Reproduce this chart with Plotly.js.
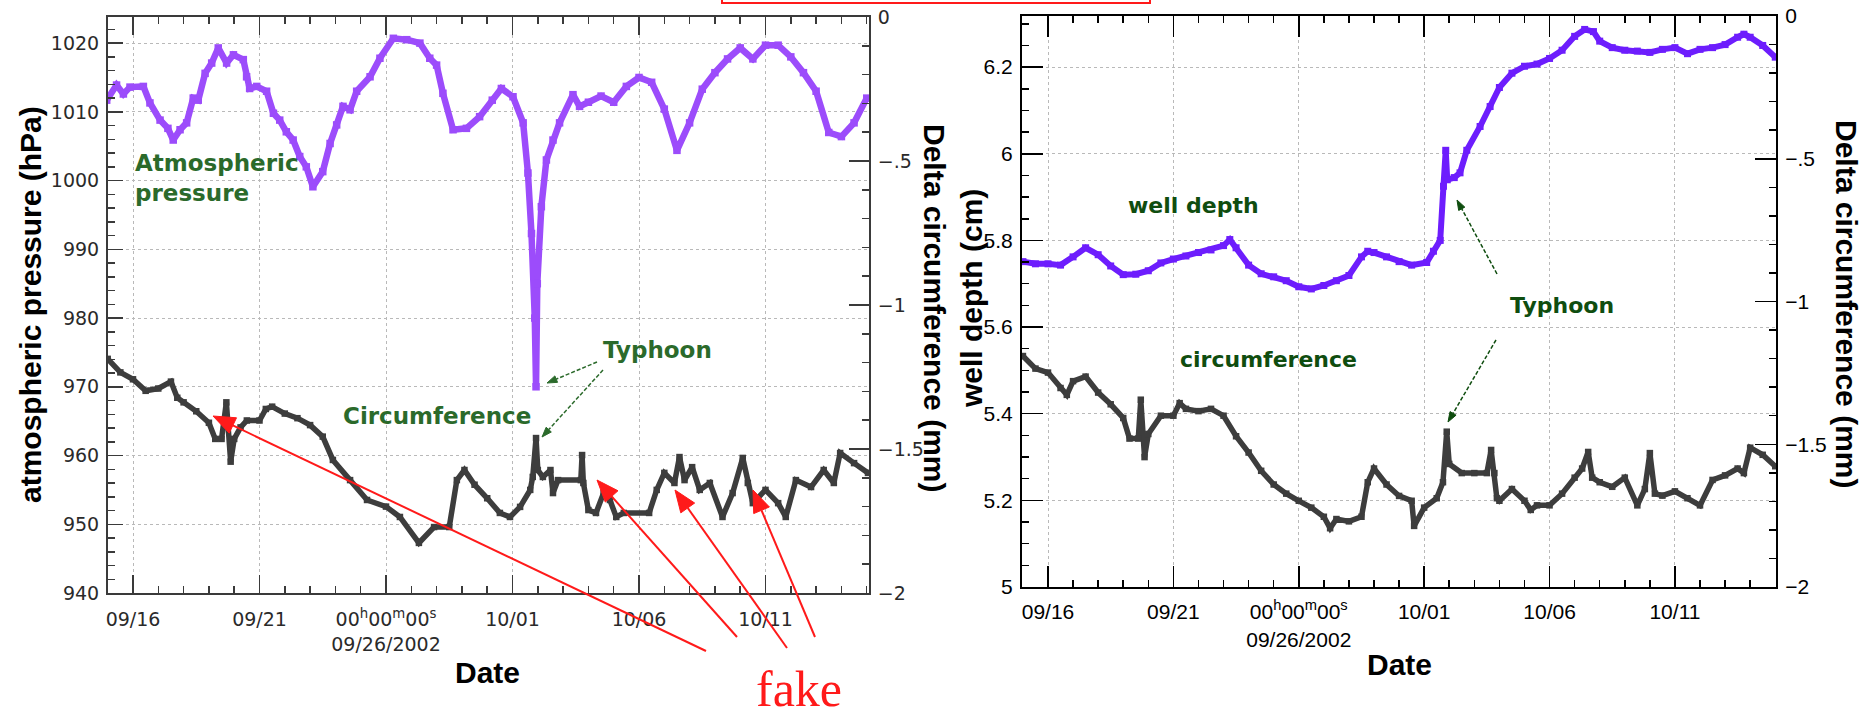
<!DOCTYPE html>
<html><head><meta charset="utf-8">
<script src="https://cdn.plot.ly/plotly-3.0.1.min.js"></script>
<style>html,body{margin:0;padding:0;background:#fff}#chart{width:1865px;height:719px}</style>
</head><body><div id="chart"></div>
<script>
// ---- tick labels ----
const tickDates = ['2002-09-16','2002-09-21','2002-09-26','2002-10-01','2002-10-06','2002-10-11'];
const tickLabels = ['09/16','09/21','00<sup>h</sup>00<sup>m</sup>00<sup>s</sup><br>09/26/2002','10/01','10/06','10/11'];
const pressureTicks = [940,950,960,970,980,990,1000,1010,1020];
const depthTicks = [5,5.2,5.4,5.6,5.8,6,6.2];
const depthTickText = ['5','5.2','5.4','5.6','5.8','6','6.2'];
const circTicks = [-2,-1.5,-1,-0.5,0];
const circTickText = ['\u22122','\u22121.5','\u22121','\u2212.5','0'];

// ---- data: elapsed days since 2002-09-16 00:00 and values ----
const pressureDays = [-1.04,-0.65,-0.38,-0.12,0.41,0.67,1.07,1.38,1.59,1.86,2.12,2.38,2.58,2.85,3.11,3.37,3.70,3.97,4.36,4.49,4.61,4.89,5.28,5.55,5.80,6.06,6.33,6.59,6.85,7.11,7.5,7.79,8.05,8.3,8.58,8.84,9.37,9.76,10.29,10.82,11.34,11.73,12.0,12.25,12.65,13.18,13.7,14.2,14.56,15.02,15.42,15.61,15.75,15.88,15.93,15.98,16.14,16.34,16.6,16.86,17.39,17.65,18.0,18.5,19.0,19.5,20.0,20.5,21.0,21.5,22.0,22.5,23.0,23.5,24.0,24.5,25.0,25.5,26.0,26.5,27.0,27.5,28.0,28.5,29.0];
const pressureHPa = [1011.7,1013.9,1012.6,1013.6,1013.7,1011.3,1008.8,1007.6,1005.9,1007.4,1008.4,1012.0,1011.7,1015.6,1017.1,1019.3,1017.1,1018.3,1017.6,1015.1,1013.4,1013.7,1013.0,1009.8,1008.8,1007.1,1005.9,1003.5,1002.0,999.1,1001.3,1005.4,1008.1,1010.8,1010.3,1013.0,1015.1,1017.8,1020.7,1020.5,1020.0,1017.8,1016.8,1012.7,1007.4,1007.6,1009.3,1011.7,1013.4,1012.2,1008.4,1001.1,992.3,980.0,970.0,985.0,996.2,1003.0,1005.9,1008.4,1012.5,1010.8,1011.4,1012.3,1011.4,1013.7,1015.0,1014.3,1010.4,1004.4,1008.4,1013.3,1015.7,1017.7,1019.3,1017.7,1019.7,1019.7,1018.0,1015.7,1013.0,1007.0,1006.4,1008.4,1012.0];

const circLeftDays = [-1.0,-0.5,0,0.5,1.0,1.5,1.75,2.0,2.5,3.0,3.25,3.5,3.69,3.86,4.0,4.25,4.5,5.0,5.25,5.5,6.0,6.5,7.0,7.5,7.9,8.58,9.25,10.0,10.55,11.3,11.9,12.5,12.8,13.1,13.5,14.0,14.5,14.9,15.3,15.7,15.8,15.93,16.0,16.2,16.5,16.6,16.8,17.7,17.75,17.8,18.0,18.3,18.6,18.85,19.1,19.4,20.4,20.7,21.0,21.4,21.6,21.8,22.1,22.4,22.8,23.3,23.7,24.1,24.3,24.5,25.0,25.5,25.8,26.2,26.8,27.3,27.7,27.95,28.5,29.05];
const circLeftMM = [-1.187,-1.234,-1.258,-1.298,-1.290,-1.266,-1.322,-1.338,-1.369,-1.409,-1.465,-1.465,-1.338,-1.544,-1.465,-1.425,-1.401,-1.401,-1.361,-1.353,-1.377,-1.393,-1.417,-1.457,-1.538,-1.608,-1.677,-1.700,-1.736,-1.826,-1.771,-1.771,-1.608,-1.573,-1.624,-1.671,-1.722,-1.736,-1.701,-1.642,-1.597,-1.462,-1.573,-1.597,-1.573,-1.653,-1.608,-1.608,-1.521,-1.618,-1.712,-1.722,-1.653,-1.677,-1.736,-1.722,-1.722,-1.642,-1.583,-1.618,-1.528,-1.608,-1.563,-1.642,-1.618,-1.736,-1.653,-1.531,-1.618,-1.688,-1.642,-1.688,-1.736,-1.608,-1.632,-1.573,-1.618,-1.514,-1.549,-1.583];

const depthDays = [-1,-0.5,0,0.5,1,1.5,2,2.5,3,3.5,4,4.5,5,5.5,6,6.5,7,7.25,7.5,8,8.5,9,9.5,10,10.5,11,11.5,12,12.5,12.75,13,13.5,14,14.5,15.1,15.37,15.64,15.77,15.86,15.92,16.2,16.43,16.7,17.23,17.63,18,18.5,19,19.5,20,20.5,21,21.4,21.75,22,22.5,23,23.5,24,24.5,25,25.5,26,26.5,27,27.5,27.75,28,28.5,29];
const depthCM = [5.751,5.746,5.746,5.743,5.762,5.783,5.767,5.741,5.721,5.722,5.730,5.748,5.757,5.764,5.772,5.778,5.788,5.802,5.783,5.743,5.723,5.716,5.707,5.693,5.688,5.696,5.707,5.719,5.762,5.775,5.772,5.762,5.751,5.743,5.749,5.775,5.800,5.925,6.008,5.940,5.945,5.956,6.008,6.063,6.109,6.153,6.186,6.202,6.207,6.220,6.239,6.271,6.287,6.282,6.260,6.245,6.239,6.237,6.234,6.241,6.245,6.231,6.241,6.245,6.252,6.269,6.276,6.269,6.250,6.223];

const circRightDays = [-1.0,-0.5,0,0.5,0.75,1.0,1.5,2.0,2.5,3.0,3.25,3.6,3.7,3.85,4.0,4.5,5.0,5.25,5.5,6.0,6.5,7.0,7.5,8.0,8.5,9.0,9.5,10.0,10.5,11.0,11.25,11.5,12.0,12.5,12.75,13.0,13.5,14.0,14.5,14.6,15.0,15.5,15.75,15.9,16.0,16.5,17.0,17.5,17.67,17.8,17.9,18.0,18.5,19.0,19.25,19.5,20.0,20.5,21.0,21.3,21.54,21.7,22.0,22.5,23.0,23.5,23.8,24.0,24.2,24.5,25.0,25.5,26.0,26.5,27.0,27.5,27.75,28.0,28.5,29.0];
const circRightMM = [-1.191,-1.235,-1.249,-1.303,-1.327,-1.279,-1.263,-1.319,-1.360,-1.408,-1.480,-1.480,-1.344,-1.545,-1.464,-1.400,-1.400,-1.356,-1.376,-1.384,-1.376,-1.400,-1.472,-1.529,-1.593,-1.641,-1.673,-1.698,-1.722,-1.754,-1.794,-1.762,-1.770,-1.754,-1.633,-1.585,-1.641,-1.681,-1.698,-1.786,-1.722,-1.689,-1.633,-1.456,-1.569,-1.601,-1.601,-1.601,-1.520,-1.601,-1.689,-1.698,-1.657,-1.698,-1.730,-1.714,-1.714,-1.673,-1.617,-1.585,-1.527,-1.617,-1.633,-1.649,-1.617,-1.714,-1.657,-1.531,-1.673,-1.680,-1.665,-1.689,-1.714,-1.625,-1.609,-1.585,-1.601,-1.512,-1.537,-1.577];

// ---- helpers ----
const W = 1865, H = 719;
const T0 = Date.UTC(2002, 8, 16);
function toDate(d){ return new Date(T0 + d*86400000).toISOString().slice(0,19).replace('T',' '); }
const px = x => x / W;
const py = y => 1 - y / H;

const PURPLE_L = '#9c4cfb', PURPLE_R = '#6d1dfd', GRAY = '#3d3d3d', GREEN_L = '#2b6a2b', GREEN_R = '#0f4d0f', RED = '#ff1a1a';

function series(days, vals, color, xa, ya, w){
  return {x: days.map(toDate), y: vals, xaxis: xa, yaxis: ya, type:'scatter', mode:'lines+markers',
    line:{color: color, width: w}, marker:{symbol:'square', size: w + 1, color: color}, hoverinfo:'skip'};
}
const data = [
  series(pressureDays, pressureHPa, PURPLE_L, 'x', 'y', 6.5),
  series(circLeftDays, circLeftMM, GRAY, 'x', 'y2', 5.5),
  series(depthDays, depthCM, PURPLE_R, 'x2', 'y3', 6),
  series(circRightDays, circRightMM, GRAY, 'x2', 'y4', 5.5)
];

function xAxis(dom, anchor, range, font, lineColor, majLen, standoff){
  return {domain: dom, anchor: anchor, type:'date', range: range, tickmode:'array', tickvals: tickDates, ticktext: tickLabels,
    ticks:'inside', ticklen: majLen, tickwidth:1.5, tickcolor: lineColor, showline:true, linewidth:2, linecolor: lineColor,
    mirror:'ticks', showgrid:true, gridcolor:'#b9b9b9', griddash:'3px,3px', gridwidth:1, zeroline:false,
    minor:{tick0:'2002-09-16', dtick:86400000, ticks:'inside', ticklen:7, tickwidth:1.5, tickcolor: lineColor, showgrid:false},
    tickfont: font, ticklabelstandoff: standoff, fixedrange:true};
}
function yAxis(dom, anchor, range, vals, text, minorDt, font, lineColor, majLen, grid, side, overlay){
  const a = {domain: dom, anchor: anchor, range: range, tickmode:'array', tickvals: vals, ticktext: text,
    ticks:'inside', ticklen: majLen, tickwidth:1.5, tickcolor: lineColor, showline:true, linewidth:2, linecolor: lineColor,
    showgrid: grid, gridcolor:'#b9b9b9', griddash:'3px,3px', gridwidth:1, zeroline:false,
    minor:{dtick: minorDt, tick0: 0, ticks:'inside', ticklen:7, tickwidth:1.5, tickcolor: lineColor, showgrid:false},
    tickfont: font, ticklabelstandoff: 3, fixedrange:true, side: side || 'left'};
  if (overlay) a.overlaying = overlay;
  return a;
}
const fontL = {family:'DejaVu Sans', size:19, color:'#2a2a2a'};
const fontR = {family:'Liberation Sans', size:21, color:'#000'};

const domLX = [px(108), px(869)], domLY = [py(593), py(17)];
const domRX = [px(1022), px(1776)], domRY = [py(587), py(16)];

const layout = {
  width: W, height: H, autosize:false, margin:{l:0,r:0,t:0,b:0},
  paper_bgcolor:'#fff', plot_bgcolor:'#fff', showlegend:false,
  font:{family:'Liberation Sans', color:'#000'},
  xaxis: xAxis(domLX, 'y', ['2002-09-15 00:17','2002-10-15 02:10'], fontL, '#3a3a3a', 18, 8),
  yaxis: yAxis(domLY, 'x', [940, 1023.8], pressureTicks, pressureTicks.map(String), 2, fontL, '#3a3a3a', 15, true),
  yaxis2: yAxis(domLY, 'x', [-2, 0], circTicks, circTickText, 0.1, fontL, '#3a3a3a', 20, false, 'right', 'y'),
  xaxis2: xAxis(domRX, 'y3', ['2002-09-14 23:07','2002-10-15 00:43'], fontR, '#000', 21, 5),
  yaxis3: yAxis(domRY, 'x2', [5, 6.318], depthTicks, depthTickText, 0.05, fontR, '#000', 21, true),
  yaxis4: yAxis(domRY, 'x2', [-2, 0], circTicks, circTickText, 0.1, fontR, '#000', 21, false, 'right', 'y3'),
  shapes: [
    {type:'rect', xref:'paper', yref:'paper', x0: px(722), x1: px(1150), y0: py(3), y1: py(-10), line:{color: RED, width:2}, fillcolor:'rgba(0,0,0,0)'}
  ],
  annotations: []
};

const A = layout.annotations;
const S = layout.shapes;
function title(text, x, y, angle, size){
  A.push({text: text, xref:'paper', yref:'paper', x: px(x), y: py(y), showarrow:false, textangle: angle,
    xanchor:'center', yanchor:'middle', font:{family:'Liberation Sans', size: size || 30, color:'#000', weight:700}});
}
title('atmospheric pressure (hPa)', 31, 305, -90);
title('Delta circumference (mm)', 935, 308, 90);
title('Date', 487, 672, 0);
title('well depth (cm)', 971, 299, -90);
title('Delta circumference (mm)', 1846, 304, 90);
title('Date', 1399, 664, 0);

function label(text, x, y, color, size, anchor){
  A.push({text: text, xref:'paper', yref:'paper', x: px(x), y: py(y), showarrow:false, align:'left',
    xanchor: anchor || 'center', yanchor:'middle', font:{family:'DejaVu Sans', size: size, color: color, weight:700}});
}
label('Atmospheric<br>pressure', 133, 178, GREEN_L, 23, 'left');
label('Typhoon', 657, 350, GREEN_L, 23);
label('Circumference', 437, 416, GREEN_L, 23);
label('well depth', 1193, 206, GREEN_R, 22);
label('circumference', 1268, 359, GREEN_R, 22);
label('Typhoon', 1562, 306, GREEN_R, 22);

// arrow drawn as shapes: a (possibly dashed) shaft and a filled triangular head
function arrow(hx, hy, tx, ty, color, width, headLen, headW, dash){
  const L = Math.hypot(hx - tx, hy - ty), ux = (hx - tx) / L, uy = (hy - ty) / L;
  const bx = hx - ux * headLen, by = hy - uy * headLen, nx = -uy * headW / 2, ny = ux * headW / 2;
  S.push({type:'line', xref:'paper', yref:'paper', x0: px(tx), y0: py(ty), x1: px(bx), y1: py(by),
    line:{color: color, width: width, dash: dash || 'solid'}});
  S.push({type:'path', xref:'paper', yref:'paper', fillcolor: color, line:{color: color, width: 1},
    path: `M ${px(hx)} ${py(hy)} L ${px(bx + nx)} ${py(by + ny)} L ${px(bx - nx)} ${py(by - ny)} Z`});
}
arrow(547, 383, 597, 362, GREEN_L, 1.5, 10, 7, '4px,2px');
arrow(542, 437, 603, 370, GREEN_L, 1.5, 10, 7, '4px,2px');
arrow(1457, 200, 1497, 274, GREEN_R, 1.5, 10, 7, '4px,2px');
arrow(1448, 422, 1496, 340, GREEN_R, 1.5, 10, 7, '4px,2px');

arrow(213, 416, 706, 651, RED, 2, 22, 17);
arrow(597, 480, 737, 637, RED, 2, 22, 17);
arrow(675, 490, 787, 648, RED, 2, 22, 17);
arrow(753, 490, 815, 637, RED, 2, 22, 17);

A.push({text:'fake', xref:'paper', yref:'paper', x: px(799), y: 0, showarrow:false,
  xanchor:'center', yanchor:'bottom', font:{family:'Liberation Serif', size:50, color: RED}});

Plotly.newPlot('chart', data, layout, {staticPlot:true, displayModeBar:false});
</script>
</body></html>
